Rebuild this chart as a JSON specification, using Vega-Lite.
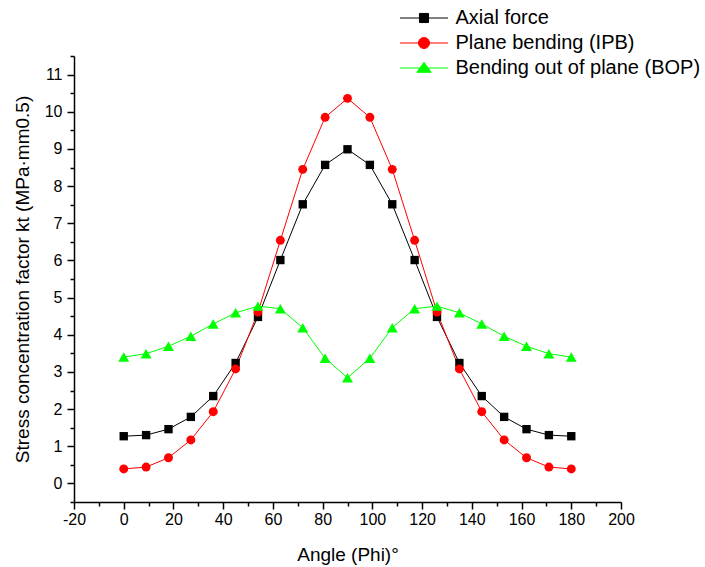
{
  "$schema": "https://vega.github.io/schema/vega-lite/v6.json",
  "width": 547,
  "height": 446,
  "autosize": {"type": "none"},
  "padding": {"left": 74, "top": 56, "right": 84, "bottom": 65},
  "background": "white",
  "config": {
    "view": {"stroke": null},
    "font": "Liberation Sans",
    "axis": {
      "grid": false,
      "domainColor": "black",
      "domainWidth": 1.5,
      "tickColor": "black",
      "tickWidth": 1.5,
      "labelColor": "black",
      "labelFont": "Liberation Sans",
      "labelFontSize": 16,
      "labelOverlap": false,
      "labelBound": false,
      "labelFlush": false,
      "titleFont": "Liberation Sans",
      "titleFontSize": 19,
      "titleFontWeight": "normal",
      "titleColor": "black"
    }
  },
  "data": {
    "values": [
      {"angle": 0, "series": "Axial force", "value": 1.27},
      {"angle": 9, "series": "Axial force", "value": 1.30},
      {"angle": 18, "series": "Axial force", "value": 1.46},
      {"angle": 27, "series": "Axial force", "value": 1.79},
      {"angle": 36, "series": "Axial force", "value": 2.35},
      {"angle": 45, "series": "Axial force", "value": 3.24},
      {"angle": 54, "series": "Axial force", "value": 4.48},
      {"angle": 63, "series": "Axial force", "value": 6.01},
      {"angle": 72, "series": "Axial force", "value": 7.51},
      {"angle": 81, "series": "Axial force", "value": 8.57},
      {"angle": 90, "series": "Axial force", "value": 8.99},
      {"angle": 99, "series": "Axial force", "value": 8.57},
      {"angle": 108, "series": "Axial force", "value": 7.51},
      {"angle": 117, "series": "Axial force", "value": 6.01},
      {"angle": 126, "series": "Axial force", "value": 4.48},
      {"angle": 135, "series": "Axial force", "value": 3.24},
      {"angle": 144, "series": "Axial force", "value": 2.35},
      {"angle": 153, "series": "Axial force", "value": 1.79},
      {"angle": 162, "series": "Axial force", "value": 1.46},
      {"angle": 171, "series": "Axial force", "value": 1.30},
      {"angle": 180, "series": "Axial force", "value": 1.27},
      {"angle": 0, "series": "Plane bending (IPB)", "value": 0.39},
      {"angle": 9, "series": "Plane bending (IPB)", "value": 0.44},
      {"angle": 18, "series": "Plane bending (IPB)", "value": 0.69},
      {"angle": 27, "series": "Plane bending (IPB)", "value": 1.17},
      {"angle": 36, "series": "Plane bending (IPB)", "value": 1.93},
      {"angle": 45, "series": "Plane bending (IPB)", "value": 3.08},
      {"angle": 54, "series": "Plane bending (IPB)", "value": 4.61},
      {"angle": 63, "series": "Plane bending (IPB)", "value": 6.54},
      {"angle": 72, "series": "Plane bending (IPB)", "value": 8.45},
      {"angle": 81, "series": "Plane bending (IPB)", "value": 9.85},
      {"angle": 90, "series": "Plane bending (IPB)", "value": 10.36},
      {"angle": 99, "series": "Plane bending (IPB)", "value": 9.85},
      {"angle": 108, "series": "Plane bending (IPB)", "value": 8.45},
      {"angle": 117, "series": "Plane bending (IPB)", "value": 6.54},
      {"angle": 126, "series": "Plane bending (IPB)", "value": 4.61},
      {"angle": 135, "series": "Plane bending (IPB)", "value": 3.08},
      {"angle": 144, "series": "Plane bending (IPB)", "value": 1.93},
      {"angle": 153, "series": "Plane bending (IPB)", "value": 1.17},
      {"angle": 162, "series": "Plane bending (IPB)", "value": 0.69},
      {"angle": 171, "series": "Plane bending (IPB)", "value": 0.44},
      {"angle": 180, "series": "Plane bending (IPB)", "value": 0.39},
      {"angle": 0, "series": "Bending out of plane (BOP)", "value": 3.40},
      {"angle": 9, "series": "Bending out of plane (BOP)", "value": 3.49},
      {"angle": 18, "series": "Bending out of plane (BOP)", "value": 3.69},
      {"angle": 27, "series": "Bending out of plane (BOP)", "value": 3.96},
      {"angle": 36, "series": "Bending out of plane (BOP)", "value": 4.29},
      {"angle": 45, "series": "Bending out of plane (BOP)", "value": 4.59},
      {"angle": 54, "series": "Bending out of plane (BOP)", "value": 4.77},
      {"angle": 63, "series": "Bending out of plane (BOP)", "value": 4.70},
      {"angle": 72, "series": "Bending out of plane (BOP)", "value": 4.19},
      {"angle": 81, "series": "Bending out of plane (BOP)", "value": 3.37},
      {"angle": 90, "series": "Bending out of plane (BOP)", "value": 2.84},
      {"angle": 99, "series": "Bending out of plane (BOP)", "value": 3.37},
      {"angle": 108, "series": "Bending out of plane (BOP)", "value": 4.19},
      {"angle": 117, "series": "Bending out of plane (BOP)", "value": 4.70},
      {"angle": 126, "series": "Bending out of plane (BOP)", "value": 4.77},
      {"angle": 135, "series": "Bending out of plane (BOP)", "value": 4.59},
      {"angle": 144, "series": "Bending out of plane (BOP)", "value": 4.29},
      {"angle": 153, "series": "Bending out of plane (BOP)", "value": 3.96},
      {"angle": 162, "series": "Bending out of plane (BOP)", "value": 3.69},
      {"angle": 171, "series": "Bending out of plane (BOP)", "value": 3.49},
      {"angle": 180, "series": "Bending out of plane (BOP)", "value": 3.40}
    ]
  },
  "encoding": {
    "x": {
      "field": "angle",
      "type": "quantitative",
      "scale": {"domain": [-20, 200], "nice": false, "zero": false},
      "axis": {
        "title": "Angle (Phi)°",
        "values": [-20, -10, 0, 10, 20, 30, 40, 50, 60, 70, 80, 90, 100, 110, 120, 130, 140, 150, 160, 170, 180, 190, 200],
        "labelExpr": "datum.value % 20 === 0 ? '' + datum.value : ''",
        "tickSize": {"condition": {"test": "datum.value % 20 === 0", "value": 7}, "value": 4},
        "labelPadding": 2,
        "titlePadding": 18
      }
    },
    "y": {
      "field": "value",
      "type": "quantitative",
      "scale": {"domain": [-0.5, 11.5], "nice": false, "zero": false},
      "axis": {
        "title": "Stress concentration factor kt (MPa·mm0.5)",
        "values": [-0.5, 0, 0.5, 1, 1.5, 2, 2.5, 3, 3.5, 4, 4.5, 5, 5.5, 6, 6.5, 7, 7.5, 8, 8.5, 9, 9.5, 10, 10.5, 11, 11.5],
        "labelExpr": "datum.value % 1 === 0 ? '' + datum.value : ''",
        "tickSize": {"condition": {"test": "datum.value % 1 === 0", "value": 7}, "value": 4},
        "labelPadding": 5,
        "titlePadding": 12
      }
    }
  },
  "layer": [
    {
      "mark": {"type": "point", "filled": true, "opacity": 0},
      "encoding": {
        "shape": {
          "field": "series",
          "type": "nominal",
          "sort": null,
          "scale": {
            "domain": ["Axial force", "Plane bending (IPB)", "Bending out of plane (BOP)"],
            "range": [
              "M-1,0H1M-0.19,-0.19H0.19V0.19H-0.19Z",
              "M-1,0H1M-0.23,0A0.23,0.23,0,1,0,0.23,0A0.23,0.23,0,1,0,-0.23,0Z",
              "M-1,0H1M0,-0.24L0.3,0.18L-0.3,0.18Z"
            ]
          },
          "legend": {
            "title": null, "orient": "none", "legendX": 325.5, "legendY": -48, "padding": 0,
            "symbolSize": 2304, "symbolStrokeWidth": 1, "symbolOffset": 0, "symbolOpacity": 1,
            "clipHeight": 20,
            "labelFont": "Liberation Sans", "labelFontSize": 20, "labelColor": "black",
            "labelOffset": 7, "labelLimit": 400, "rowPadding": 5
          }
        },
        "fill": {
          "field": "series",
          "type": "nominal",
          "sort": null,
          "scale": {
            "domain": ["Axial force", "Plane bending (IPB)", "Bending out of plane (BOP)"],
            "range": ["#000000", "#ff0000", "#00ff00"]
          },
          "legend": {
            "title": null, "orient": "none", "legendX": 325.5, "legendY": -48, "padding": 0,
            "symbolSize": 2304, "symbolStrokeWidth": 1, "symbolOffset": 0, "symbolOpacity": 1,
            "clipHeight": 20,
            "labelFont": "Liberation Sans", "labelFontSize": 20, "labelColor": "black",
            "labelOffset": 7, "labelLimit": 400, "rowPadding": 5
          }
        },
        "stroke": {
          "field": "series",
          "type": "nominal",
          "sort": null,
          "scale": {
            "domain": ["Axial force", "Plane bending (IPB)", "Bending out of plane (BOP)"],
            "range": ["#000000", "#ff0000", "#00ff00"]
          },
          "legend": {
            "title": null, "orient": "none", "legendX": 325.5, "legendY": -48, "padding": 0,
            "symbolSize": 2304, "symbolStrokeWidth": 1, "symbolOffset": 0, "symbolOpacity": 1,
            "clipHeight": 20,
            "labelFont": "Liberation Sans", "labelFontSize": 20, "labelColor": "black",
            "labelOffset": 7, "labelLimit": 400, "rowPadding": 5
          }
        }
      }
    },
    {
      "mark": {"type": "line", "strokeWidth": 1},
      "encoding": {
        "color": {
          "field": "series",
          "type": "nominal",
          "sort": null,
          "scale": {
            "domain": ["Axial force", "Plane bending (IPB)", "Bending out of plane (BOP)"],
            "range": ["#000000", "#ff0000", "#00ff00"]
          },
          "legend": null
        }
      }
    },
    {
      "transform": [{"filter": "datum.series === 'Axial force'"}],
      "mark": {"type": "point", "shape": "square", "filled": true, "opacity": 1, "size": 70, "color": "#000000"}
    },
    {
      "transform": [{"filter": "datum.series === 'Plane bending (IPB)'"}],
      "mark": {"type": "point", "shape": "circle", "filled": true, "opacity": 1, "size": 80, "color": "#ff0000"}
    },
    {
      "transform": [{"filter": "datum.series === 'Bending out of plane (BOP)'"}],
      "mark": {"type": "point", "shape": "triangle-up", "filled": true, "opacity": 1, "size": 120, "color": "#00ff00"}
    }
  ]
}
